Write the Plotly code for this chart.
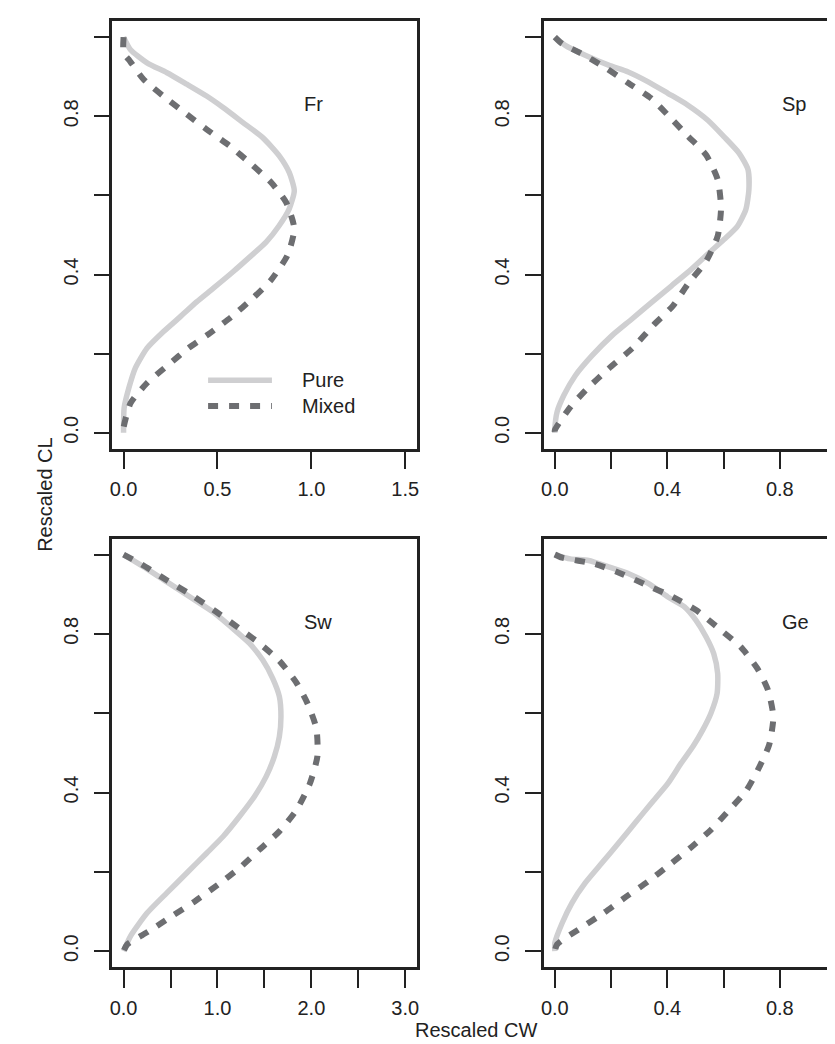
import plotly.graph_objects as go

# Fr panel
fr_pure_x = [0.0, 0.037, 0.125, 0.231, 0.336, 0.442, 0.530, 0.636, 0.741, 0.829, 0.882, 0.909, 0.882, 0.829, 0.759,
             0.671, 0.583, 0.477, 0.389, 0.301, 0.213, 0.125, 0.063, 0.028, 0.003, 0.0, 0.0]
fr_pure_y = [1.0, 0.968, 0.935, 0.910, 0.881, 0.851, 0.822, 0.784, 0.746, 0.700, 0.658, 0.612, 0.566, 0.524, 0.482,
             0.444, 0.407, 0.365, 0.331, 0.293, 0.256, 0.214, 0.164, 0.113, 0.063, 0.013, 0.0]
fr_mix_x = [0.0, 0.0, 0.028, 0.107, 0.222, 0.336, 0.442, 0.565, 0.680, 0.785, 0.865, 0.909, 0.873, 0.785, 0.688,
            0.574, 0.460, 0.345, 0.239, 0.125, 0.037, 0.0, 0.0]
fr_mix_y = [1.0, 0.960, 0.943, 0.893, 0.847, 0.805, 0.767, 0.725, 0.679, 0.633, 0.583, 0.516, 0.449, 0.386, 0.340,
            0.293, 0.252, 0.214, 0.172, 0.126, 0.075, 0.013, 0.0]

# Sp panel
sp_pure_x = [0.0, 0.037, 0.108, 0.191, 0.261, 0.332, 0.402, 0.473, 0.544, 0.602, 0.655, 0.687, 0.690, 0.679, 0.649,
             0.602, 0.549, 0.485, 0.414, 0.343, 0.273, 0.202, 0.132, 0.073, 0.032, 0.008, 0.0, 0.0]
sp_pure_y = [1.0, 0.979, 0.954, 0.929, 0.912, 0.887, 0.858, 0.828, 0.790, 0.748, 0.707, 0.665, 0.614, 0.564, 0.522,
             0.489, 0.455, 0.413, 0.371, 0.329, 0.287, 0.245, 0.195, 0.145, 0.095, 0.053, 0.011, 0.0]
sp_mix_x = [0.0, 0.026, 0.090, 0.179, 0.261, 0.343, 0.402, 0.473, 0.538, 0.579, 0.591, 0.579, 0.538, 0.473, 0.420,
            0.349, 0.279, 0.191, 0.114, 0.055, 0.0, 0.0]
sp_mix_y = [1.0, 0.983, 0.960, 0.923, 0.884, 0.845, 0.803, 0.750, 0.702, 0.640, 0.568, 0.497, 0.434, 0.376, 0.321,
            0.271, 0.216, 0.162, 0.111, 0.065, 0.007, 0.0]

# Sw panel
sw_pure_x = [0.0, 0.215, 0.461, 0.708, 0.954, 1.166, 1.342, 1.482, 1.588, 1.659, 1.676, 1.659, 1.606, 1.518, 1.394,
             1.236, 1.060, 0.884, 0.673, 0.461, 0.250, 0.074, 0.0]
sw_pure_y = [1.0, 0.969, 0.931, 0.893, 0.855, 0.813, 0.776, 0.734, 0.688, 0.642, 0.591, 0.541, 0.491, 0.440, 0.390,
             0.340, 0.289, 0.247, 0.197, 0.147, 0.096, 0.038, 0.0]
sw_mix_x = [0.0, 0.180, 0.461, 0.743, 0.990, 1.236, 1.447, 1.659, 1.835, 1.958, 2.053, 2.064, 1.983, 1.842, 1.659,
            1.447, 1.236, 1.007, 0.761, 0.514, 0.268, 0.039, 0.0]
sw_mix_y = [1.0, 0.977, 0.935, 0.895, 0.855, 0.813, 0.776, 0.732, 0.679, 0.625, 0.562, 0.491, 0.422, 0.356, 0.302,
            0.256, 0.210, 0.168, 0.126, 0.088, 0.050, 0.017, 0.0]

# Ge panel
ge_pure_x = [0.0, 0.055, 0.120, 0.191, 0.261, 0.332, 0.402, 0.461, 0.502, 0.538, 0.565, 0.579, 0.577, 0.555, 0.526,
             0.491, 0.449, 0.402, 0.343, 0.285, 0.226, 0.167, 0.108, 0.061, 0.026, 0.0, 0.0]
ge_pure_y = [1.0, 0.989, 0.985, 0.969, 0.952, 0.927, 0.893, 0.868, 0.834, 0.792, 0.750, 0.700, 0.650, 0.600, 0.558,
             0.516, 0.474, 0.423, 0.373, 0.323, 0.272, 0.222, 0.172, 0.122, 0.071, 0.021, 0.0]
ge_mix_x = [0.0, 0.026, 0.138, 0.232, 0.320, 0.414, 0.502, 0.591, 0.661, 0.720, 0.758, 0.777, 0.762, 0.722, 0.679,
            0.620, 0.555, 0.485, 0.408, 0.332, 0.255, 0.173, 0.085, 0.008, 0.0]
ge_mix_y = [1.0, 0.992, 0.977, 0.953, 0.925, 0.895, 0.860, 0.809, 0.767, 0.713, 0.658, 0.591, 0.520, 0.457, 0.403,
            0.356, 0.306, 0.262, 0.218, 0.176, 0.138, 0.096, 0.055, 0.017, 0.0]

panel_names = ["Fr", "Sp", "Sw", "Ge"]
label_x = [1.01, 0.852, 2.07, 0.857]
label_y = 0.83

legend_names = ["Pure", "Mixed"]
legend_line_x = [0.45, 0.79]
legend_y = [0.133, 0.068]
legend_text_x = 0.94

PURE = "#cfcfd1"
MIXED = "#6d6e71"
INK = "#222222"
FONT = dict(family="Liberation Sans, Arial, sans-serif", size=20, color=INK)

curves = [(fr_pure_x, fr_pure_y, fr_mix_x, fr_mix_y),
          (sp_pure_x, sp_pure_y, sp_mix_x, sp_mix_y),
          (sw_pure_x, sw_pure_y, sw_mix_x, sw_mix_y),
          (ge_pure_x, ge_pure_y, ge_mix_x, ge_mix_y)]

fig = go.Figure()

x_domains = [[0.1222, 0.4892], [0.6428, 1.0], [0.1222, 0.4892], [0.6428, 1.0]]
y_domains = [[0.5779, 0.9873], [0.5779, 0.9873], [0.0814, 0.4917], [0.0814, 0.4917]]
x_ranges = [[-0.06, 1.56], [-0.039, 1.014], [-0.12, 3.12], [-0.039, 1.014]]
x_ticks = [([0, 0.5, 1.0, 1.5], ["0.0", "0.5", "1.0", "1.5"]),
           ([0, 0.2, 0.4, 0.6, 0.8, 1.0], ["0.0", "", "0.4", "", "0.8", ""]),
           ([0, 0.5, 1.0, 1.5, 2.0, 2.5, 3.0], ["0.0", "", "1.0", "", "2.0", "", "3.0"]),
           ([0, 0.2, 0.4, 0.6, 0.8, 1.0], ["0.0", "", "0.4", "", "0.8", ""])]
y_vals = [0, 0.2, 0.4, 0.6, 0.8, 1.0]
y_text = ["0.0", "", "0.4", "", "0.8", ""]

for i, (px_, py_, mx_, my_) in enumerate(curves):
    n = "" if i == 0 else str(i + 1)
    xa, ya = "x" + n, "y" + n
    fig.add_trace(go.Scatter(x=px_, y=py_, xaxis=xa, yaxis=ya, mode="lines", showlegend=False,
                             line=dict(color=PURE, width=5.5, shape="spline", smoothing=0.6)))
    fig.add_trace(go.Scatter(x=mx_, y=my_, xaxis=xa, yaxis=ya, mode="lines", showlegend=False,
                             line=dict(color=MIXED, width=6, dash="10px,11px", shape="spline", smoothing=0.6)))
    right = i in (1, 3)
    fig.update_layout(**{
        "xaxis" + n: dict(domain=x_domains[i], range=x_ranges[i], anchor=ya, showgrid=False, zeroline=False,
                          showline=True, linecolor=INK, linewidth=2.5, mirror=True,
                          ticks="outside", ticklen=18, tickwidth=2, tickcolor=INK,
                          tickvals=x_ticks[i][0], ticktext=x_ticks[i][1], tickfont=FONT,
                          ticklabelstandoff=3),
        "yaxis" + n: dict(domain=y_domains[i], range=[-0.04, 1.04], anchor=xa, showgrid=False, zeroline=False,
                          showline=True, linecolor=INK, linewidth=2.5, mirror=not right,
                          ticks="outside", ticklen=16, tickwidth=2, tickcolor=INK,
                          tickvals=y_vals, ticktext=y_text, tickfont=FONT, tickangle=-90,
                          ticklabelstandoff=8),
    })
    fig.add_annotation(x=label_x[i], y=label_y, xref=xa, yref=ya, text=panel_names[i],
                       showarrow=False, font=FONT)

# legend in the Fr panel
fig.add_trace(go.Scatter(x=legend_line_x, y=[legend_y[0]] * 2, mode="lines", showlegend=False,
                         line=dict(color=PURE, width=5.5)))
fig.add_trace(go.Scatter(x=legend_line_x, y=[legend_y[1]] * 2, mode="lines", showlegend=False,
                         line=dict(color=MIXED, width=6, dash="10px,11px")))
for name, yy in zip(legend_names, legend_y):
    fig.add_annotation(x=legend_text_x, y=yy, xref="x", yref="y", text=name, showarrow=False,
                       xanchor="left", font=FONT)

fig.add_annotation(x=21 / 835, y=0.5345, xref="paper", yref="paper", text="Rescaled CL", textangle=-90,
                   showarrow=False, font=FONT)
fig.add_annotation(x=468 / 835, y=(1044 - 1022) / 1044, xref="paper", yref="paper", text="Rescaled CW",
                   showarrow=False, font=FONT, yanchor="middle")

fig.update_layout(width=835, height=1044, margin=dict(l=0, r=0, t=0, b=0),
                  plot_bgcolor="white", paper_bgcolor="white")
fig.write_html("out.html")
